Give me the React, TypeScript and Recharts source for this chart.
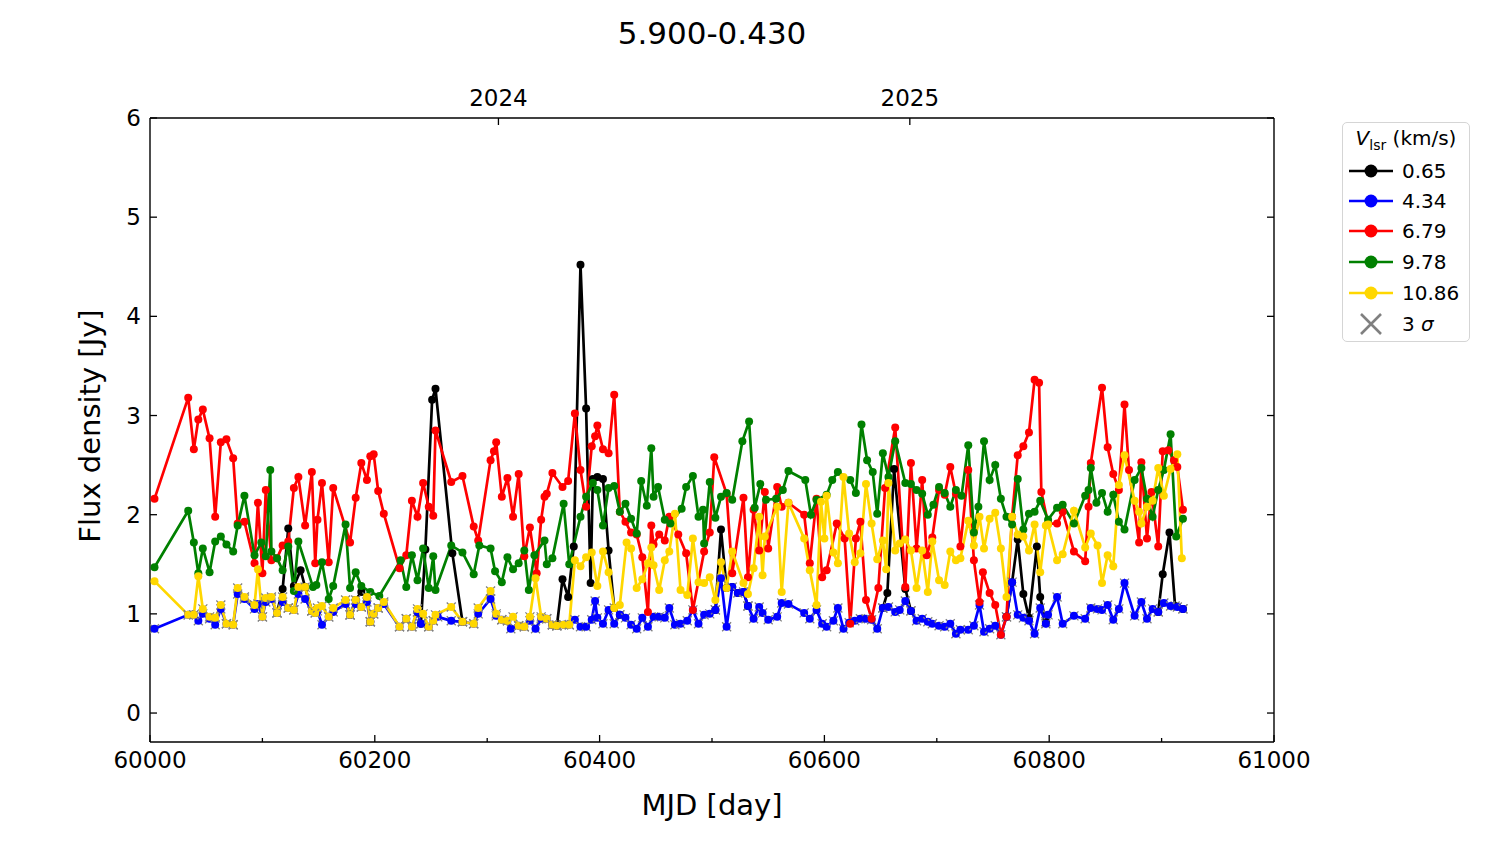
import { LineChart, Line, XAxis, YAxis } from "recharts";

type Pt = [number, number | null];

// V_lsr = 0.65 km/s (nulls break the line between detections)
const black: Pt[] = [
  [60113, 1.01], [60118, 1.25], [60123, 1.86], [60128, 1.28], [60134, 1.44], [60138, 1.27], [60144, 1.03],
  [60160, null],
  [60178, 0.99], [60183, 1.14], [60188, 1.22], [60193, 1.17], [60196, 0.92],
  [60220, null],
  [60238, 1.02], [60241, 0.9], [60245, 1.65], [60251, 3.16], [60254, 3.27], [60269, 1.61], [60278, 0.92],
  [60300, null],
  [60358, 0.89], [60362, 0.88], [60367, 1.35], [60372, 1.17], [60377, 1.68], [60383, 4.52], [60388, 3.07],
  [60392, 1.31], [60394, 2.36], [60398, 2.38], [60403, 2.36], [60408, 1.64], [60413, 1.06], [60418, 0.99],
  [60450, null],
  [60503, 1.04], [60508, 1.85], [60513, 1.26], [60518, 1.27], [60523, 1.21], [60528, 1.22], [60532, 1.08],
  [60600, null],
  [60652, 1.06], [60656, 1.21], [60662, 2.46], [60672, 1.25], [60677, 1.03],
  [60720, null],
  [60762, 0.97], [60767, 1.32], [60772, 1.75], [60777, 1.2], [60782, 0.96], [60789, 1.68], [60792, 1.17], [60797, 0.92],
  [60850, null],
  [60897, 1.02], [60901, 1.4], [60907, 1.82], [60912, 1.08], [60919, 1.05],
];

// V_lsr = 4.34 km/s
const blue: Pt[] = [
  [60004, 0.85], [60034, 0.99], [60039, 0.99], [60043, 0.93], [60047, 1.0], [60053, 0.95], [60058, 0.89],
  [60063, 1.05], [60068, 0.9], [60074, 0.89], [60078, 1.2], [60084, 1.15], [60093, 1.05], [60096, 1.1],
  [60100, 0.97], [60103, 1.12], [60108, 1.15], [60113, 1.01], [60118, 1.12], [60123, 1.06], [60128, 1.04],
  [60132, 1.2], [60138, 1.15], [60144, 1.03], [60147, 1.01], [60149, 1.03], [60153, 0.89], [60159, 0.97],
  [60163, 1.02], [60174, 1.1], [60178, 0.99], [60183, 1.1], [60188, 1.07], [60193, 1.12], [60196, 0.92],
  [60199, 1.0], [60203, 1.06], [60208, 1.1], [60222, 0.87], [60228, 0.95], [60233, 0.87], [60238, 1.02],
  [60241, 0.9], [60248, 0.87], [60252, 0.93], [60256, 0.97], [60268, 0.93], [60278, 0.92], [60288, 0.9],
  [60292, 1.0], [60303, 1.15], [60308, 0.98], [60313, 0.94], [60318, 0.93], [60321, 0.85], [60328, 0.88],
  [60333, 0.87], [60338, 0.93], [60343, 0.85], [60348, 0.95], [60353, 0.95], [60358, 0.89], [60362, 0.88],
  [60368, 0.89], [60373, 0.89], [60378, 0.94], [60383, 0.87], [60388, 0.87], [60393, 0.94], [60396, 1.13],
  [60398, 0.96], [60403, 0.9], [60408, 1.04], [60413, 0.9], [60418, 0.99], [60423, 0.96], [60428, 0.89],
  [60433, 0.85], [60438, 0.96], [60443, 0.87], [60448, 0.97], [60453, 0.97], [60458, 0.96], [60462, 1.06],
  [60467, 0.89], [60472, 0.9], [60478, 0.93], [60483, 1.04], [60488, 0.9], [60493, 0.99], [60498, 1.0],
  [60503, 1.04], [60508, 1.36], [60513, 0.87], [60518, 1.27], [60523, 1.21], [60528, 1.22], [60532, 1.08],
  [60537, 0.95], [60542, 1.07], [60545, 1.01], [60550, 0.94], [60558, 0.97], [60562, 1.11], [60568, 1.1],
  [60582, 1.01], [60587, 0.95], [60593, 1.04], [60598, 0.9], [60602, 0.87], [60608, 0.93], [60612, 1.06],
  [60617, 0.85], [60622, 0.91], [60627, 0.93], [60632, 0.95], [60637, 0.95], [60642, 0.94], [60647, 0.85],
  [60652, 1.06], [60657, 1.07], [60663, 1.02], [60667, 1.04], [60672, 1.13], [60677, 1.03], [60682, 0.93],
  [60687, 0.95], [60692, 0.92], [60696, 0.9], [60702, 0.88], [60707, 0.87], [60712, 0.9], [60717, 0.8],
  [60721, 0.84], [60728, 0.84], [60733, 0.88], [60738, 1.09], [60742, 0.82], [60747, 0.85], [60752, 0.88],
  [60757, 0.79], [60762, 0.97], [60767, 1.32], [60772, 0.99], [60777, 0.96], [60782, 0.93], [60787, 0.8],
  [60792, 1.06], [60797, 0.9], [60799, 0.99], [60807, 1.17], [60812, 0.9], [60822, 0.98], [60832, 0.95],
  [60837, 1.06], [60843, 1.05], [60847, 1.04], [60852, 1.09], [60857, 0.94], [60862, 1.05], [60867, 1.31],
  [60876, 0.98], [60882, 1.12], [60887, 0.95], [60892, 1.05], [60897, 1.02], [60902, 1.11], [60908, 1.08],
  [60914, 1.07], [60919, 1.05],
];

// V_lsr = 6.79 km/s
const red: Pt[] = [
  [60004, 2.16], [60034, 3.18], [60039, 2.66], [60043, 2.96], [60047, 3.06], [60053, 2.77], [60058, 1.98],
  [60063, 2.73], [60068, 2.76], [60074, 2.57], [60078, 1.91], [60084, 1.93], [60093, 1.51], [60096, 2.12],
  [60100, 1.41], [60103, 2.25], [60108, 1.54], [60113, 1.56], [60118, 1.69], [60123, 1.73], [60128, 2.27],
  [60132, 2.38], [60138, 1.89], [60144, 2.43], [60147, 1.51], [60149, 1.95], [60153, 2.32], [60159, 1.52],
  [60163, 2.27], [60178, 1.72], [60183, 2.17], [60188, 2.52], [60193, 2.35], [60196, 2.59], [60199, 2.61],
  [60203, 2.24], [60208, 2.01], [60222, 1.46], [60228, 1.59], [60233, 2.14], [60238, 1.98], [60243, 2.32],
  [60248, 2.08], [60252, 1.99], [60254, 2.85], [60268, 2.33], [60278, 2.39], [60288, 1.88], [60292, 1.74],
  [60303, 2.55], [60306, 2.64], [60308, 2.73], [60313, 2.18], [60318, 2.37], [60323, 1.98], [60328, 2.41],
  [60333, 1.58], [60338, 1.87], [60344, 1.41], [60348, 1.95], [60351, 2.18], [60353, 2.21], [60358, 2.42],
  [60367, 2.28], [60372, 2.34], [60378, 3.02], [60383, 2.45], [60388, 2.08], [60393, 2.69], [60396, 2.79],
  [60398, 2.9], [60403, 2.66], [60408, 2.62], [60413, 3.21], [60418, 2.03], [60423, 1.93], [60428, 1.82],
  [60433, 1.8], [60438, 1.57], [60443, 1.02], [60446, 1.89], [60448, 1.7], [60453, 1.8], [60458, 1.74],
  [60462, 1.98], [60470, 1.8], [60477, 1.61], [60483, 1.04], [60493, 1.63], [60498, 1.82], [60502, 2.58],
  [60513, 2.21], [60518, 1.41], [60528, 2.17], [60532, 1.37], [60537, 2.05], [60542, 1.64], [60547, 2.23],
  [60550, 1.66], [60558, 2.28], [60562, 2.08], [60568, 2.12], [60582, 2.0], [60587, 1.51], [60593, 2.16],
  [60598, 1.37], [60602, 1.44], [60611, 1.91], [60618, 1.76], [60623, 0.9], [60628, 1.76], [60632, 1.93],
  [60637, 1.14], [60642, 0.95], [60648, 1.26], [60654, 2.27], [60663, 2.88], [60672, 1.27], [60677, 2.52],
  [60682, 1.66], [60687, 2.35], [60691, 1.59], [60696, 1.77], [60702, 2.25], [60707, 2.2], [60712, 2.48],
  [60717, 2.21], [60721, 1.68], [60728, 2.45], [60733, 1.54], [60738, 1.12], [60741, 1.42], [60747, 1.21],
  [60752, 1.09], [60757, 0.79], [60762, 0.97], [60767, 1.98], [60772, 2.6], [60777, 2.69], [60782, 2.83],
  [60787, 3.36], [60791, 3.33], [60793, 2.23], [60799, 1.91], [60807, 1.91], [60812, 2.03], [60822, 1.63],
  [60832, 1.53], [60835, 2.08], [60837, 2.52], [60847, 3.28], [60852, 2.68], [60857, 2.41], [60862, 2.25],
  [60867, 3.11], [60871, 2.45], [60880, 1.72], [60882, 2.53], [60887, 1.76], [60891, 2.23], [60897, 1.68],
  [60901, 2.64], [60906, 2.65], [60911, 2.55], [60914, 2.48], [60919, 2.05],
];

// V_lsr = 9.78 km/s
const green: Pt[] = [
  [60004, 1.47], [60034, 2.04], [60039, 1.72], [60043, 1.41], [60047, 1.66], [60053, 1.42], [60058, 1.73],
  [60063, 1.78], [60068, 1.7], [60074, 1.63], [60078, 1.89], [60084, 2.19], [60093, 1.59], [60099, 1.72],
  [60103, 1.58], [60107, 2.45], [60108, 1.63], [60113, 1.56], [60118, 1.44], [60123, 1.68], [60128, 1.23],
  [60132, 1.73], [60145, 1.27], [60148, 1.29], [60153, 1.52], [60159, 1.15], [60163, 1.28], [60174, 1.9],
  [60178, 1.26], [60183, 1.42], [60188, 1.28], [60196, 1.22], [60204, 1.18], [60223, 1.54], [60228, 1.27],
  [60233, 1.59], [60238, 1.34], [60243, 1.66], [60248, 1.26], [60252, 1.58], [60254, 1.24], [60268, 1.69],
  [60278, 1.62], [60288, 1.4], [60293, 1.69], [60303, 1.66], [60307, 1.43], [60313, 1.32], [60318, 1.57],
  [60323, 1.45], [60328, 1.51], [60333, 1.64], [60337, 1.24], [60342, 1.59], [60351, 1.74], [60353, 1.5],
  [60358, 1.56], [60368, 2.11], [60373, 1.5], [60383, 1.98], [60388, 2.18], [60394, 2.32], [60398, 2.25],
  [60403, 1.89], [60408, 2.27], [60413, 2.29], [60418, 2.03], [60423, 2.11], [60428, 1.96], [60433, 1.81],
  [60437, 2.34], [60442, 2.09], [60446, 2.67], [60448, 2.18], [60452, 2.28], [60458, 1.95], [60463, 1.91],
  [60473, 2.06], [60477, 2.28], [60483, 2.39], [60488, 1.98], [60492, 2.05], [60493, 1.71], [60498, 2.33],
  [60503, 1.97], [60508, 2.18], [60513, 2.22], [60518, 2.15], [60527, 2.74], [60533, 2.94], [60538, 2.07],
  [60543, 2.31], [60548, 2.15], [60557, 2.16], [60563, 2.25], [60568, 2.44], [60583, 2.35], [60588, 2.0],
  [60593, 2.15], [60602, 2.2], [60607, 2.35], [60612, 2.43], [60623, 2.35], [60628, 2.22], [60633, 2.91],
  [60638, 2.55], [60643, 2.43], [60647, 2.01], [60652, 2.62], [60657, 2.38], [60663, 2.74], [60672, 2.32],
  [60677, 2.31], [60682, 2.25], [60687, 2.21], [60692, 2.0], [60697, 2.1], [60702, 2.28], [60707, 2.22],
  [60712, 2.08], [60717, 2.25], [60722, 2.19], [60728, 2.7], [60733, 1.82], [60737, 2.08], [60742, 2.74],
  [60747, 2.35], [60752, 2.5], [60757, 2.16], [60762, 1.98], [60767, 1.9], [60772, 2.36], [60777, 1.85],
  [60782, 2.01], [60787, 2.03], [60792, 2.14], [60799, 1.95], [60807, 2.07], [60812, 2.1], [60822, 1.91],
  [60832, 2.19], [60835, 2.25], [60837, 2.47], [60842, 2.12], [60847, 2.22], [60852, 2.03], [60857, 2.2],
  [60862, 1.93], [60867, 1.85], [60876, 2.35], [60882, 2.47], [60887, 2.16], [60892, 1.98], [60897, 2.25],
  [60902, 2.45], [60908, 2.81], [60913, 1.78], [60919, 1.96],
];

// V_lsr = 10.86 km/s
const yellow: Pt[] = [
  [60004, 1.33], [60034, 0.99], [60039, 0.99], [60043, 1.38], [60047, 1.05], [60053, 0.97], [60058, 0.96],
  [60063, 1.09], [60068, 0.9], [60074, 0.89], [60078, 1.26], [60084, 1.17], [60093, 1.09], [60096, 1.45],
  [60100, 0.97], [60103, 1.16], [60108, 1.17], [60113, 1.01], [60118, 1.17], [60123, 1.06], [60128, 1.04],
  [60132, 1.27], [60138, 1.27], [60144, 1.03], [60147, 1.01], [60149, 1.06], [60153, 1.08], [60159, 0.97],
  [60163, 1.06], [60174, 1.14], [60178, 0.99], [60183, 1.14], [60188, 1.07], [60193, 1.17], [60196, 0.92],
  [60199, 1.0], [60203, 1.06], [60208, 1.12], [60222, 0.87], [60228, 0.95], [60233, 0.87], [60238, 1.05],
  [60243, 1.0], [60248, 0.87], [60252, 0.93], [60254, 0.99], [60268, 1.07], [60278, 0.92], [60288, 0.9],
  [60292, 1.06], [60303, 1.23], [60308, 1.0], [60313, 0.94], [60318, 0.93], [60323, 0.97], [60328, 0.88],
  [60333, 0.87], [60338, 0.97], [60343, 1.36], [60348, 0.97], [60353, 0.95], [60358, 0.89], [60362, 0.88],
  [60368, 0.89], [60373, 0.89], [60378, 1.54], [60383, 1.48], [60388, 1.57], [60393, 1.62], [60398, 1.28],
  [60403, 1.63], [60408, 1.42], [60413, 1.06], [60418, 1.09], [60424, 1.72], [60428, 1.66], [60433, 1.26],
  [60438, 1.35], [60443, 1.51], [60446, 1.67], [60448, 1.49], [60453, 1.24], [60458, 1.54], [60462, 1.63],
  [60467, 2.01], [60472, 1.24], [60478, 1.19], [60483, 1.76], [60488, 1.32], [60493, 1.31], [60498, 1.37],
  [60503, 1.14], [60508, 1.52], [60513, 1.26], [60518, 1.63], [60528, 1.31], [60532, 1.2], [60537, 1.46],
  [60542, 1.98], [60545, 1.39], [60547, 1.78], [60558, 2.08], [60562, 1.22], [60568, 2.12], [60582, 1.76],
  [60587, 1.44], [60593, 1.09], [60597, 2.13], [60600, 1.76], [60602, 2.19], [60608, 1.62], [60612, 1.51],
  [60617, 2.38], [60622, 1.81], [60627, 1.52], [60632, 1.61], [60637, 2.31], [60642, 1.91], [60647, 1.55],
  [60652, 1.74], [60655, 1.45], [60657, 2.32], [60663, 1.64], [60667, 1.71], [60672, 1.75], [60677, 1.64],
  [60682, 1.26], [60687, 1.64], [60692, 1.22], [60696, 1.73], [60702, 1.34], [60707, 1.29], [60712, 1.63],
  [60717, 1.54], [60721, 1.56], [60728, 1.94], [60733, 1.69], [60738, 1.98], [60742, 1.66], [60747, 1.96],
  [60752, 2.02], [60757, 1.66], [60762, 1.17], [60767, 1.98], [60772, 1.8], [60777, 1.78], [60782, 1.64],
  [60787, 1.9], [60792, 1.42], [60797, 1.89], [60799, 1.9], [60807, 1.54], [60812, 1.6], [60822, 2.04],
  [60832, 1.67], [60837, 1.81], [60843, 1.69], [60847, 1.31], [60852, 1.59], [60857, 1.48], [60862, 2.3],
  [60867, 2.6], [60876, 2.14], [60880, 2.03], [60882, 1.91], [60887, 2.08], [60892, 2.14], [60897, 2.47],
  [60902, 2.19], [60908, 2.46], [60914, 2.61], [60918, 1.56],
];

const velocities = ["0.65", "4.34", "6.79", "9.78", "10.86"];
const colors = ["#000000", "#0000ff", "#ff0000", "#008000", "#ffd700"];
const xMajorTicks = [60000, 60200, 60400, 60600, 60800, 61000];
const xMinorTicks = [60100, 60300, 60500, 60700, 60900];
const yTicks = [0, 1, 2, 3, 4, 5, 6];
const yearTicks = [60310, 60676];
const yearLabels = ["2024", "2025"];

// which points are 3-sigma upper limits (drawn with a grey cross)
const isLimit = [
  (m: number, f: number) => f < 1.1,
  (m: number, f: number) => true,
  (m: number, f: number) => false,
  (m: number, f: number) => false,
  (m: number, f: number) => m < 60376 && f < 1.3,
];

const toRows = (pts: Pt[]) => pts.map(([mjd, flux]) => ({ mjd, flux }));
const series = [black, blue, red, green, yellow].map(toRows);

const FONT = "'DejaVu Sans', sans-serif";
const TICK_FS = 23;

function makeDot(color: string, limit: (m: number, f: number) => boolean, sid: number) {
  return (props: any) => {
    const { cx, cy, payload, index } = props;
    const k = `d${sid}-${index}`;
    if (cx == null || cy == null || payload == null || payload.flux == null) return <g key={k} />;
    const s = 4.5;
    return (
      <g key={k}>
        {limit(payload.mjd, payload.flux) && (
          <path
            d={`M${cx - s},${cy - s}L${cx + s},${cy + s}M${cx - s},${cy + s}L${cx + s},${cy - s}`}
            stroke="#808080"
            strokeWidth={1.3}
          />
        )}
        <circle cx={cx} cy={cy} r={4} fill={color} />
      </g>
    );
  };
}

const BottomTick = (props: any) => {
  const { x, payload } = props;
  const y = 742;
  const major = xMajorTicks.includes(payload.value);
  return (
    <g>
      <line x1={x} y1={y} x2={x} y2={y - (major ? 7 : 4)} stroke="#000" strokeWidth={1.3} />
      {major && (
        <text x={x} y={y + 26} textAnchor="middle" fontSize={TICK_FS} fontFamily={FONT} fill="#000">
          {payload.value}
        </text>
      )}
    </g>
  );
};

const TopTick = (props: any) => {
  const { x, payload } = props;
  const y = 118;
  const i = yearTicks.indexOf(payload.value);
  return (
    <g>
      <line x1={x} y1={y} x2={x} y2={y + 7} stroke="#000" strokeWidth={1.3} />
      <text x={x} y={y - 12} textAnchor="middle" fontSize={TICK_FS} fontFamily={FONT} fill="#000">
        {yearLabels[i]}
      </text>
    </g>
  );
};

const LeftTick = (props: any) => {
  const { y, payload } = props;
  const x = 150;
  return (
    <g>
      <line x1={x} y1={y} x2={x + 7} y2={y} stroke="#000" strokeWidth={1.3} />
      <text x={x - 9} y={y + 8} textAnchor="end" fontSize={TICK_FS} fontFamily={FONT} fill="#000">
        {payload.value}
      </text>
    </g>
  );
};

const RightTick = (props: any) => {
  const { y } = props;
  const x = 1274;
  return <line x1={x} y1={y} x2={x - 7} y2={y} stroke="#000" strokeWidth={1.3} />;
};

const LegendBox = () => {
  const rowTop = [48, 78, 108, 139, 170];
  return (
    <div
      style={{
        position: "absolute",
        left: 1342,
        top: 122,
        width: 128,
        height: 220,
        border: "1px solid #d5d5d5",
        borderRadius: 5,
        background: "#fff",
        boxSizing: "border-box",
        fontFamily: FONT,
        fontSize: 20,
        color: "#000",
      }}
    >
      <div style={{ position: "absolute", left: 0, width: "100%", top: 3, textAlign: "center", whiteSpace: "nowrap" }}>
        <i>V</i>
        <span style={{ fontSize: 14, position: "relative", top: 5 }}>lsr</span> (km/s)
      </div>
      {velocities.map((v, i) => (
        <div key={v} style={{ position: "absolute", left: 0, top: rowTop[i] - 13, height: 26, width: "100%" }}>
          <svg width={56} height={26} style={{ position: "absolute", left: 0, top: 0 }}>
            <line x1={6} y1={13} x2={50} y2={13} stroke={colors[i]} strokeWidth={2.5} />
            <circle cx={28} cy={13} r={6.5} fill={colors[i]} />
          </svg>
          <span style={{ position: "absolute", left: 59, top: 0, lineHeight: "26px" }}>{v}</span>
        </div>
      ))}
      <div style={{ position: "absolute", left: 0, top: 201 - 13, height: 26, width: "100%" }}>
        <svg width={56} height={26} style={{ position: "absolute", left: 0, top: 0 }}>
          <path d="M18,3L38,23M18,23L38,3" stroke="#808080" strokeWidth={2.6} />
        </svg>
        <span style={{ position: "absolute", left: 59, top: 0, lineHeight: "26px" }}>
          3 <i>σ</i>
        </span>
      </div>
    </div>
  );
};

const axisStyle = { stroke: "#000", strokeWidth: 1.4 };

export default function App() {
  return (
    <div style={{ position: "absolute", left: 0, top: 0, width: 1500, height: 844, background: "#fff", fontFamily: FONT }}>
      <LineChart width={1500} height={844} margin={{ top: 117, left: 149, right: 225, bottom: 101 }}>
        <XAxis
          xAxisId="b"
          dataKey="mjd"
          type="number"
          domain={[60000, 61000]}
          allowDataOverflow
          ticks={[...xMajorTicks, ...xMinorTicks].sort((a, b) => a - b)}
          interval={0}
          height={1}
          tickSize={0}
          tickMargin={0}
          tickLine={false}
          axisLine={axisStyle}
          tick={<BottomTick />}
        />
        <XAxis
          xAxisId="t"
          orientation="top"
          dataKey="mjd"
          type="number"
          domain={[60000, 61000]}
          allowDataOverflow
          ticks={yearTicks}
          interval={0}
          height={1}
          tickSize={0}
          tickMargin={0}
          tickLine={false}
          axisLine={axisStyle}
          tick={<TopTick />}
        />
        <YAxis
          yAxisId="l"
          type="number"
          domain={[-0.292, 6]}
          allowDataOverflow
          ticks={yTicks}
          interval={0}
          width={1}
          tickSize={0}
          tickMargin={0}
          tickLine={false}
          axisLine={axisStyle}
          tick={<LeftTick />}
        />
        <YAxis
          yAxisId="r"
          orientation="right"
          type="number"
          domain={[-0.292, 6]}
          allowDataOverflow
          ticks={yTicks}
          interval={0}
          width={1}
          tickSize={0}
          tickMargin={0}
          tickLine={false}
          axisLine={axisStyle}
          tick={<RightTick />}
        />
        {series.map((rows, i) => {
          // the last series is bound to the top/right axes (same domains) so those axes get ticks
          const last = i === series.length - 1;
          return (
            <Line
              key={velocities[i]}
              xAxisId={last ? "t" : "b"}
              yAxisId={last ? "r" : "l"}
              data={rows}
              dataKey="flux"
              type="linear"
              stroke={colors[i]}
              strokeWidth={2.7}
              dot={makeDot(colors[i], isLimit[i], i)}
              activeDot={false}
              connectNulls={false}
              isAnimationActive={false}
            />
          );
        })}
      </LineChart>
      <div style={{ position: "absolute", left: 462, width: 500, top: 13, textAlign: "center", fontSize: 31, lineHeight: "40px" }}>
        5.900-0.430
      </div>
      <div style={{ position: "absolute", left: 462, width: 500, top: 786, textAlign: "center", fontSize: 29, lineHeight: "38px" }}>
        MJD [day]
      </div>
      <div
        style={{
          position: "absolute",
          left: 90 - 200,
          top: 426 - 19,
          width: 400,
          textAlign: "center",
          fontSize: 29,
          lineHeight: "38px",
          transform: "rotate(-90deg)",
        }}
      >
        Flux density [Jy]
      </div>
      <LegendBox />
    </div>
  );
}
